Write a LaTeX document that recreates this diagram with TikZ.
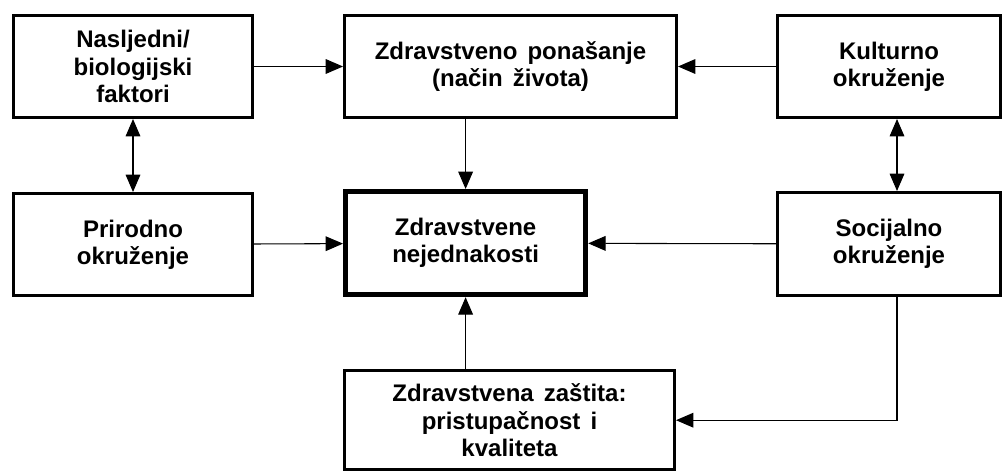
\documentclass[tikz,border=0pt]{standalone}
\usepackage{fontspec}
\setmainfont{Liberation Sans}
\usetikzlibrary{positioning,arrows.meta}

\newcommand\boxfont{\bfseries\fontsize{18}{20.5}\selectfont\spaceskip=0.42em\relax}

\tikzstyle{every node}+=[inner sep=1mm,font=\boxfont,align=center]
\tikzstyle{box}=[draw,rectangle,line width=2.25pt,minimum height=76.5pt]
\tikzstyle{mainbox}=[box,line width=3.9pt,minimum width=180pt,minimum height=77.25pt]
\tikzstyle{arr}=[line width=0.8pt,-{Triangle[length=13pt,width=11pt]}]
\tikzstyle{dbl}=[line width=0.8pt,{Triangle[length=13pt,width=11pt]}-{Triangle[length=13pt,width=11pt]}]

\begin{document}
\begin{tikzpicture}[x=0.75pt,y=-0.75pt]

\useasboundingbox (0,0) rectangle (1005,475);

\node[box,minimum width=179.25pt] (n1) at (133,66.5) {Nasljedni/\\biologijski\\faktori};
\node[box,minimum width=249pt,right=66.75pt of n1] (n2) {Zdravstveno ponašanje\\(način života)};
\node[box,minimum width=167.25pt,right=73.5pt of n2] (n3) {Kulturno\\okruženje};

\node[box,minimum width=179.25pt,below=54.75pt of n1] (n4) {Prirodno\\okruženje};
\node[mainbox,below=52.5pt of n2.south west,anchor=north west] (n5) {Zdravstvene\\nejednakosti};
\node[box,minimum width=167.25pt,minimum height=77.25pt,below=54pt of n3] (n6) {Socijalno\\okruženje};

\node[box,minimum width=247.5pt,minimum height=74.25pt,below=54pt of n5.south west,anchor=north west] (n7) {Zdravstvena zaštita:\\pristupačnost i\\kvaliteta};

\draw[arr] (n1) edge (n2);
\draw[arr] (n3) edge (n2);
\draw[arr] (n5.north |- n2.south) -- (n5.north);
\draw[dbl] (n1) edge (n4);
\draw[dbl] ([xshift=6pt]n3.south) -- ([xshift=6pt]n6.north);
\draw[arr] (n4) edge (n5);
\draw[arr] (n6) edge (n5);
\draw[arr] (n5.south |- n7.north) -- (n5.south);
\draw[arr] ([xshift=6pt]n6.south) |- (n7.east);
\end{tikzpicture}
\end{document}
